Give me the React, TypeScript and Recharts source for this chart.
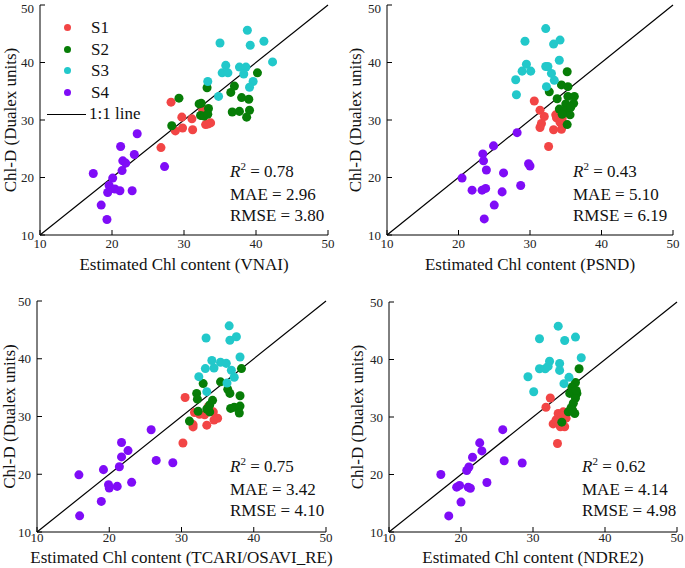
import { ScatterChart, Scatter, XAxis, YAxis, ZAxis, ReferenceLine, Legend } from 'recharts'

const serif = '"Liberation Serif"'
const ticks = [10, 20, 30, 40, 50]
const groups = ['S1', 'S2', 'S3', 'S4']
const groupColors = ['#f24545', '#077d07', '#22c8ca', '#7f0cf7']

const indexNames = ['VNAI', 'PSND', 'TCARI/OSAVI_RE', 'NDRE2']
const r2Values = ['0.78', '0.43', '0.75', '0.62']
const maeValues = ['2.96', '5.10', '3.42', '4.14']
const rmseValues = ['3.80', '6.19', '4.10', '4.98']

// [estimated, measured]
const vnaiS1 = [[28.2,33.1],[26.8,25.2],[29.7,30.5],[31.1,30.2],[28.8,28.1],[29.8,28.6],[31.2,28.3],[32.6,31.7],[33.0,29.2],[33.7,29.5],[33.3,29.3],[32.4,30.8]]
const vnaiS2 = [[29.3,33.8],[28.3,29.0],[32.1,32.8],[32.4,32.9],[33.4,32.0],[33.2,35.6],[32.3,30.8],[32.8,30.7],[33.3,31.0],[36.5,34.8],[37.0,35.9],[38.0,33.9],[39.0,33.6],[36.7,31.4],[37.7,31.5],[39.1,31.7],[38.7,30.5],[40.2,38.2]]
const vnaiS3 = [[38.8,45.6],[35.0,43.4],[39.2,43.0],[41.1,43.7],[42.3,40.1],[35.8,39.5],[35.3,38.2],[36.1,38.2],[37.7,39.2],[38.6,39.2],[38.3,38.0],[39.6,36.7],[39.1,35.7],[33.3,36.7],[34.8,34.1]]
const vnaiS4 = [[17.4,20.7],[21.2,25.4],[23.5,27.6],[21.5,22.9],[21.9,22.5],[23.1,24.0],[21.4,21.2],[20.1,19.9],[19.6,18.6],[20.4,18.0],[21.1,17.7],[22.8,17.7],[19.4,17.4],[18.5,15.2],[19.3,12.7],[27.3,21.9]]

const psndS1 = [[30.6,33.3],[31.4,31.7],[32.0,30.6],[31.6,29.4],[31.4,28.7],[33.6,30.9],[33.7,30.4],[33.3,28.3],[34.2,29.6],[34.4,28.4],[32.6,25.4],[34.5,30.2]]
const psndS2 = [[32.7,34.9],[35.2,38.4],[34.4,36.1],[35.3,35.8],[33.8,33.7],[34.1,31.9],[35.3,34.1],[36.2,34.1],[36.1,32.9],[35.0,32.8],[34.8,31.5],[35.6,30.9],[35.2,29.2],[34.5,31.0],[35.7,32.2]]
const psndS3 = [[32.2,45.9],[29.3,43.7],[33.3,43.2],[34.2,43.9],[34.1,40.4],[29.5,39.7],[28.9,38.5],[30.1,38.5],[32.2,39.3],[32.5,39.3],[33.0,38.1],[33.4,36.9],[32.3,35.8],[28.0,37.0],[28.1,34.4]]
const psndS4 = [[20.5,19.9],[21.9,17.8],[23.3,17.8],[23.8,18.1],[23.4,24.1],[23.5,22.9],[23.9,21.3],[24.9,25.5],[26.3,20.8],[26.1,17.5],[25.0,15.2],[23.6,12.8],[28.7,18.6],[28.2,27.8],[29.8,22.4],[30.0,22.0]]

const tcariS1 = [[30.5,33.3],[30.2,25.4],[31.8,30.7],[32.5,30.4],[31.6,28.6],[31.6,28.2],[33.5,28.5],[33.7,31.7],[34.4,30.8],[34.5,29.4],[35.0,29.7],[33.2,30.3]]
const tcariS2 = [[31.1,29.2],[32.1,34.0],[32.2,33.0],[32.3,30.9],[33.0,35.7],[33.5,31.3],[33.9,30.8],[33.9,32.0],[34.3,32.8],[35.4,36.0],[36.4,34.7],[36.7,34.0],[36.8,31.4],[37.3,31.6],[38.1,31.8],[38.1,33.6],[38.0,30.6],[38.3,38.3]]
const tcariS3 = [[36.6,45.7],[33.4,43.6],[36.7,43.2],[37.6,43.8],[38.1,40.3],[34.2,39.7],[33.3,38.3],[34.5,38.4],[35.4,39.4],[36.2,39.2],[36.9,38.0],[37.3,36.8],[36.3,35.8],[32.4,36.9],[33.5,34.3]]
const tcariS4 = [[15.8,19.9],[15.9,12.8],[19.2,20.8],[18.9,15.3],[19.9,18.2],[20.0,17.6],[21.1,17.9],[21.4,21.3],[21.7,25.5],[21.7,23.0],[22.6,24.1],[23.1,18.6],[25.8,27.7],[26.5,22.4],[28.8,22.0]]

const ndreS1 = [[32.4,33.3],[31.8,31.7],[33.5,30.6],[34.2,30.9],[32.8,28.8],[33.2,29.5],[33.8,28.3],[34.4,28.3],[34.6,29.8],[33.4,25.4],[34.0,30.2]]
const ndreS2 = [[34.0,29.1],[36.4,38.4],[35.9,36.0],[35.4,35.2],[35.1,34.1],[36.1,34.1],[35.9,33.3],[35.6,32.4],[35.3,31.6],[34.9,30.9],[35.8,30.6],[35.5,31.2],[36.0,34.6]]
const ndreS3 = [[33.5,45.8],[30.9,43.6],[34.4,43.3],[35.9,43.9],[36.7,40.3],[32.3,39.7],[30.9,38.4],[31.7,38.4],[32.1,38.8],[33.7,39.3],[33.7,38.1],[35.0,36.9],[34.3,35.8],[29.3,37.0],[30.1,34.4]]
const ndreS4 = [[17.2,20.0],[18.3,12.8],[19.4,17.8],[19.8,18.1],[20.0,15.2],[21.0,17.8],[21.3,17.6],[20.8,20.7],[21.1,21.3],[21.6,23.0],[22.6,25.5],[22.9,24.1],[23.6,18.6],[25.8,27.8],[26.0,22.4],[28.5,22.0]]

const panelData = [
  [vnaiS1, vnaiS2, vnaiS3, vnaiS4],
  [psndS1, psndS2, psndS3, psndS4],
  [tcariS1, tcariS2, tcariS3, tcariS4],
  [ndreS1, ndreS2, ndreS3, ndreS4],
]

const layouts = [
  { left: 0, top: 0, width: 345, height: 280, margin: { top: 5, right: 17, bottom: 10, left: 10 }, labelX: 10, tickGap: 9, labelOffset: 0, stats: { left: 230, top: 161 } },
  { left: 345, top: 0, width: 340, height: 280, margin: { top: 5, right: 12, bottom: 10, left: 12 }, labelX: 10, tickGap: 9, labelOffset: 0, stats: { left: 573, top: 161 } },
  { left: 0, top: 284, width: 345, height: 284, margin: { top: 17, right: 19, bottom: 1, left: 7 }, labelX: 9, tickGap: 6, labelOffset: 4, stats: { left: 230, top: 456 } },
  { left: 345, top: 284, width: 340, height: 284, margin: { top: 18, right: 8, bottom: 1, left: 14 }, labelX: 12, tickGap: 6, labelOffset: 4, stats: { left: 582, top: 456 } },
]

function LegendBox(props: any) {
  const items = props.payload || []
  return (
    <div style={{ fontFamily: serif, fontSize: 17, color: '#111', lineHeight: '21.6px' }}>
      {items.map((p: any) => (
        <div key={p.value} style={{ display: 'flex', alignItems: 'center', height: 21.6 }}>
          <span style={{ display: 'inline-block', width: 7, height: 7, borderRadius: '50%', background: p.color, marginLeft: 16.5, marginRight: 20.5 }} />
          <span>{p.value}</span>
        </div>
      ))}
      <div style={{ display: 'flex', alignItems: 'center', height: 21.6 }}>
        <span style={{ display: 'inline-block', width: 39, borderTop: '1.3px solid #000', marginRight: 3 }} />
        <span>1:1 line</span>
      </div>
    </div>
  )
}

function yLabel(cx: number) {
  return (props: any) => {
    const vb = props.viewBox || {}
    const cy = vb.y + vb.height / 2
    return (
      <text x={cx} y={cy} transform={`rotate(-90, ${cx}, ${cy})`} textAnchor="middle" dominantBaseline="central"
        fill="#111" fontSize={17} fontFamily={serif}>
        Chl-D (Dualex units)
      </text>
    )
  }
}

function Panel({ i }: { i: number }) {
  const lay = layouts[i]
  const series = panelData[i]
  const tickStyle = { fill: '#222', fontSize: 13, fontFamily: serif }
  return (
    <div style={{ position: 'absolute', left: lay.left, top: lay.top }}>
      <ScatterChart width={lay.width} height={lay.height} margin={lay.margin}>
        <XAxis type="number" dataKey="x" domain={[10, 50]} ticks={ticks} allowDataOverflow
          height={35} stroke="#000" tickSize={-5} tickMargin={lay.tickGap} tick={tickStyle}
          label={{ value: `Estimated Chl content (${indexNames[i]})`, position: 'insideBottom', offset: lay.labelOffset, fill: '#111', fontSize: 17, fontFamily: serif }} />
        <XAxis xAxisId="top" orientation="top" type="number" domain={[10, 50]} ticks={ticks} allowDataOverflow
          height={0} stroke="#000" tickSize={-5} tick={false} />
        <YAxis type="number" dataKey="y" domain={[10, 50]} ticks={ticks} allowDataOverflow
          width={30} stroke="#000" tickSize={-5} tickMargin={11} tick={tickStyle}
          label={{ content: yLabel(lay.labelX) }} />
        <YAxis yAxisId="right" orientation="right" type="number" domain={[10, 50]} ticks={ticks} allowDataOverflow
          width={0} stroke="#000" tickSize={-5} tick={false} />
        <ZAxis range={[40, 40]} />
        <ReferenceLine segment={[{ x: 10, y: 10 }, { x: 50, y: 50 }]} stroke="#000" strokeWidth={1.2} />
        {series.map((pts, k) => (
          <Scatter key={groups[k]} name={groups[k]} data={pts.map(([x, y]) => ({ x, y }))}
            fill={groupColors[k]} isAnimationActive={false} />
        ))}
        {i === 0 && (
          <Legend layout="vertical" align="center" verticalAlign="middle" content={LegendBox}
            wrapperStyle={{ left: 47, top: 17, width: 120 }} />
        )}
      </ScatterChart>
    </div>
  )
}

function Stats({ i }: { i: number }) {
  const s = layouts[i].stats
  return (
    <div style={{ position: 'absolute', left: s.left, top: s.top, fontFamily: serif, fontSize: 17, lineHeight: '21px', color: '#111', whiteSpace: 'nowrap' }}>
      <div><i>R</i><span style={{ fontSize: 11, position: 'relative', top: -7 }}>2</span> = {r2Values[i]}</div>
      <div>MAE = {maeValues[i]}</div>
      <div>RMSE = {rmseValues[i]}</div>
    </div>
  )
}

export default function App() {
  return (
    <div style={{ position: 'absolute', left: 0, top: 0, width: 685, height: 568, background: '#fff' }}>
      {[0, 1, 2, 3].map(i => <Panel key={i} i={i} />)}
      {[0, 1, 2, 3].map(i => <Stats key={'s' + i} i={i} />)}
    </div>
  )
}
